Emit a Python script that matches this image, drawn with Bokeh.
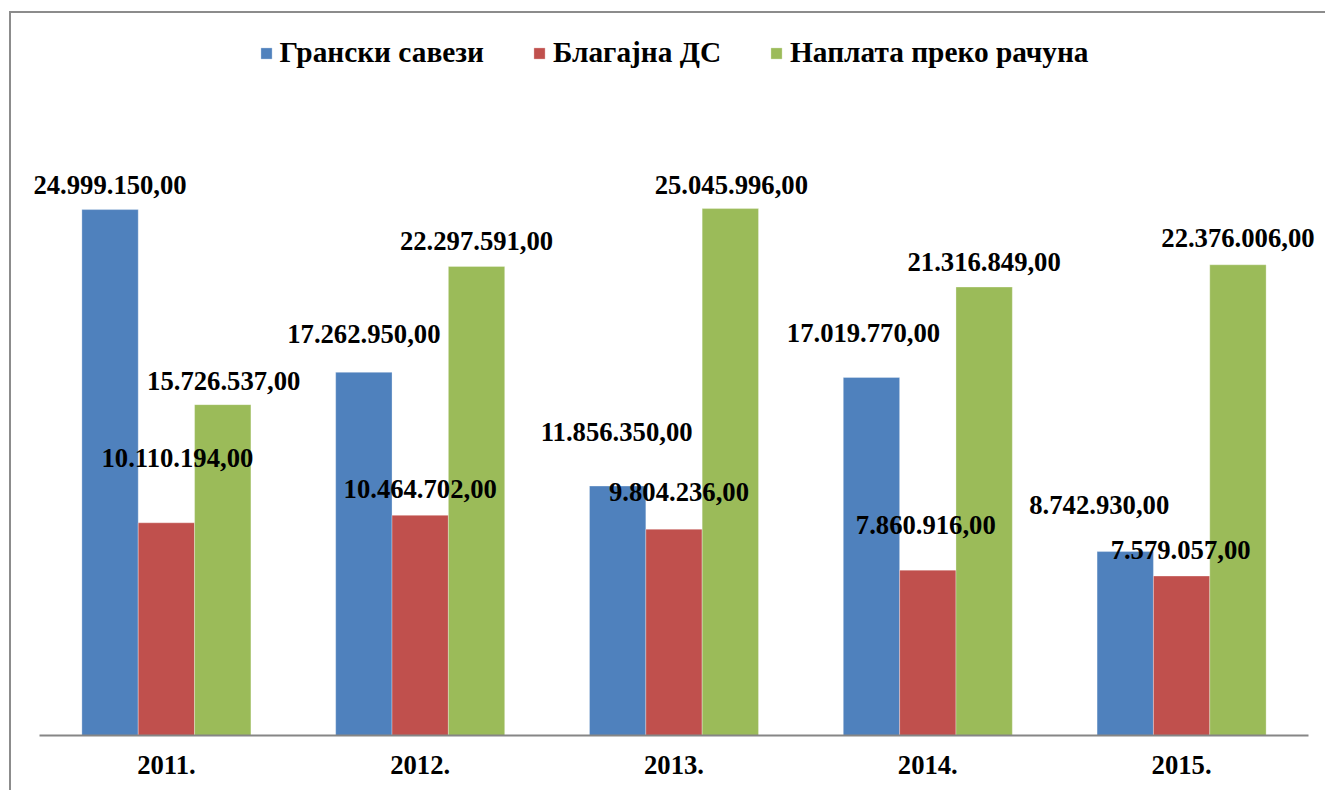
from bokeh.plotting import figure
from bokeh.models import ColumnDataSource, FactorRange, LabelSet, Legend, LegendItem
from bokeh.transform import dodge
from bokeh.embed import file_html
from bokeh.resources import INLINE

years = ["2011.", "2012.", "2013.", "2014.", "2015."]
series_names = ["Грански савези", "Благајна ДС", "Наплата преко рачуна"]
granski = [24999150.00, 17262950.00, 11856350.00, 17019770.00, 8742930.00]
blagajna = [10110194.00, 10464702.00, 9804236.00, 7860916.00, 7579057.00]
naplata = [15726537.00, 22297591.00, 25045996.00, 21316849.00, 22376006.00]

colors = ["#4F81BD", "#C0504D", "#9BBB59"]
offsets = [-0.222, 0.0, 0.222]
# label pixel offsets (dx, dy) relative to the top centre of each bar
label_dx = [[0, 0, -1, -8, -26], [11, 0, 5, -2, -1], [1, 0, 1, 0, 0]]
label_dy = [[25, 38, 54, 44, 47], [65, 26, 37, 45, 26], [24, 25, 24, 25, 27]]

FONT = "Liberation Serif"

W, H = 1316, 779
p = figure(x_range=FactorRange(*years, range_padding=34 / 1269, range_padding_units="percent"),
           y_range=(0, 34.32e6),
           width=W, height=H, output_backend="svg", toolbar_location=None,
           y_axis_location=None, min_border_left=11, min_border_right=2,
           min_border_top=0, min_border_bottom=57,
           styles={"margin-left": "9px", "margin-top": "11px",
                   "border-left": "2px solid #8C8C8C", "border-top": "2px solid #8C8C8C"})
p.outline_line_color = None
p.xgrid.grid_line_color = None
p.ygrid.grid_line_color = None
p.background_fill_color = "white"
p.border_fill_color = "white"

def fmt(v):
    s = f"{v:,.2f}"
    return s.replace(",", "X").replace(".", ",").replace("X", ".")

items = []
for i, vals in enumerate([granski, blagajna, naplata]):
    src = ColumnDataSource(dict(
        year=years, val=vals, txt=[fmt(v) for v in vals],
        dx=label_dx[i], dy=label_dy[i]))
    r = p.vbar(x=dodge("year", offsets[i], range=p.x_range), top="val", width=0.222,
               source=src, fill_color=colors[i], line_color="white", line_width=0.5,
               line_alpha=0.6)
    items.append(LegendItem(label=series_names[i], renderers=[r]))
    labels = LabelSet(x=dodge("year", offsets[i], range=p.x_range), y="val", text="txt",
                      x_offset="dx", y_offset="dy", source=src,
                      text_align="center", text_baseline="middle",
                      text_font=FONT, text_font_style="bold", text_font_size="20pt",
                      text_color="black")
    p.add_layout(labels)

legend = Legend(items=items, orientation="horizontal", location="top_center",
                glyph_width=14, glyph_height=14, label_standoff=7, spacing=48,
                padding=0, margin=23, border_line_color=None, background_fill_alpha=0,
                label_text_font=FONT, label_text_font_style="bold",
                label_text_font_size="22pt", label_text_color="black")
p.add_layout(legend)

p.xaxis.bounds = (0, len(years))
p.xaxis.axis_line_color = "#868686"
p.xaxis.axis_line_width = 2
p.xaxis.major_tick_line_color = None
p.xaxis.minor_tick_line_color = None
p.xaxis.major_label_standoff = 14
p.xaxis.major_label_text_font = FONT
p.xaxis.major_label_text_font_style = "bold"
p.xaxis.major_label_text_font_size = "20pt"
p.xaxis.major_label_text_color = "black"

open("out.html", "w").write(file_html(p, INLINE))
